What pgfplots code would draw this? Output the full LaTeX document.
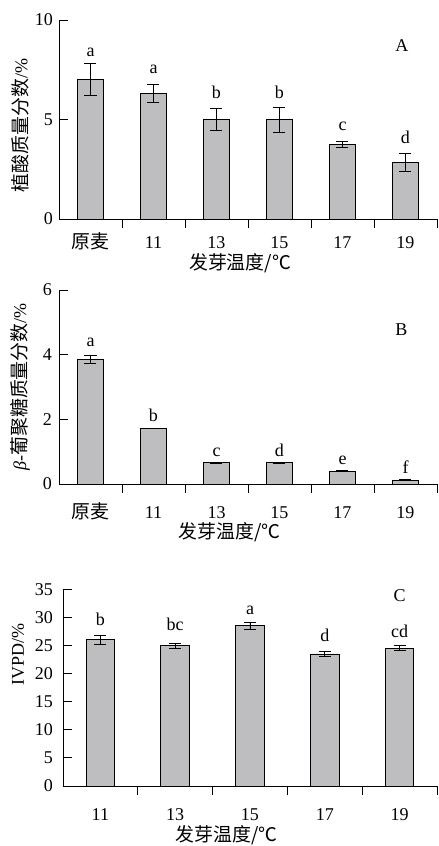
\documentclass[border=0pt]{standalone}
\usepackage{fontspec}
\setmainfont{Liberation Serif}
\newfontfamily\cjk[Scale=1.05]{Noto Sans CJK SC}
\usepackage{pgfplots}
\pgfplotsset{compat=1.18}
\definecolor{barfill}{RGB}{190,190,192}
\pgfplotsset{
  mybar/.style={
    scale only axis,
    axis x line*=bottom, axis y line*=left,
    axis line style={line width=0.9pt,-},
    ymin=0, enlargelimits=false, clip=false,
    tick align=inside,
    tick style={black, line width=0.9pt},
    major tick length=9pt, minor tick length=9pt,
    major x tick style={draw=none},
    /pgf/number format/assume math mode=true,
    xticklabel style={anchor=base},
    ybar, bar width=26pt,
  },
  barplot/.style={fill=barfill, draw=black, line width=0.8pt,
    error bars/.cd, y dir=both, y explicit,
    error bar style={line width=0.8pt, black},
    error mark options={rotate=90, mark size=6pt, line width=0.8pt, black}},
}
\begin{document}
\fontsize{18}{21}\selectfont
\begin{tikzpicture}
\path[use as bounding box] (0pt,0pt) rectangle (439pt,846pt);

% ---------- Panel A ----------
\begin{axis}[mybar,
  at={(59pt,627pt)}, anchor=south west, width=378pt, height=199pt,
  xmin=-0.5, xmax=5.5, ymax=10, ytick={0,5,10},
  xtick={0,...,5}, xticklabels={{\cjk 原麦},11,13,15,17,19},
  minor xtick={0.5,1.5,2.5,3.5,4.5,5.5},
  xticklabel style={yshift=-21pt},
  xlabel={{\cjk 发芽温度/℃}},
  every axis x label/.style={at={(axis description cs:0.479,-0.222)}, anchor=center},
  ylabel={{\cjk 植酸质量分数}/\%},
  every axis y label/.style={at={(axis description cs:-0.103,0.47)}, anchor=center, rotate=90},
]
\addplot[barplot] table[x=x,y=y,y error=e] {
x y e
0 7.0 0.8
1 6.3 0.45
2 5.0 0.55
3 5.0 0.63
4 3.75 0.17
5 2.85 0.45
};
\node[anchor=base] at (axis cs:0,8.16) {a};
\node[anchor=base] at (axis cs:1,7.32) {a};
\node[anchor=base] at (axis cs:2,6.07) {b};
\node[anchor=base] at (axis cs:3,6.07) {b};
\node[anchor=base] at (axis cs:4,4.47) {c};
\node[anchor=base] at (axis cs:5,3.77) {d};
\node[anchor=base] at (rel axis cs:0.907,0.84) {A};
\end{axis}

% ---------- Panel B ----------
\begin{axis}[mybar,
  at={(59pt,362pt)}, anchor=south west, width=378pt, height=194pt,
  xmin=-0.5, xmax=5.5, ymax=6, ytick={0,2,4,6},
  xtick={0,...,5}, xticklabels={{\cjk 原麦},11,13,15,17,19},
  minor xtick={0.5,1.5,2.5,3.5,4.5,5.5},
  xticklabel style={yshift=-26pt},
  yticklabel style={xshift=-1pt},
  xlabel={{\cjk 发芽温度/℃}},
  every axis x label/.style={at={(axis description cs:0.452,-0.25)}, anchor=center},
  ylabel={\textit{β}-{\cjk 葡聚糖质量分数}/\%},
  every axis y label/.style={at={(axis description cs:-0.103,0.50)}, anchor=center, rotate=90},
]
\addplot[barplot] table[x=x,y=y,y error=e] {
x y e
0 3.85 0.12
1 1.72 0.01
2 0.66 0.01
3 0.66 0.01
4 0.40 0.01
5 0.12 0.01
};
\node[anchor=base] at (axis cs:0,4.24) {a};
\node[anchor=base] at (axis cs:1,1.92) {b};
\node[anchor=base] at (axis cs:2,0.84) {c};
\node[anchor=base] at (axis cs:3,0.84) {d};
\node[anchor=base] at (axis cs:4,0.59) {e};
\node[anchor=base] at (axis cs:5,0.33) {f};
\node[anchor=base] at (rel axis cs:0.906,0.768) {B};
\end{axis}

% ---------- Panel C ----------
\begin{axis}[mybar,
  at={(63pt,60pt)}, anchor=south west, width=374pt, height=196.7pt,
  xmin=-0.5, xmax=4.5, ymax=35, ytick={0,5,...,35},
  bar width=28.6pt,
  xtick={0,...,4}, xticklabels={11,13,15,17,19},
  minor xtick={0.5,1.5,2.5,3.5,4.5},
  xticklabel style={yshift=-25.7pt},
  yticklabel style={xshift=-4pt},
  xlabel={{\cjk 发芽温度/℃}},
  every axis x label/.style={at={(axis description cs:0.438,-0.252)}, anchor=center},
  ylabel={IVPD/\%},
  every axis y label/.style={at={(axis description cs:-0.120,0.67)}, anchor=center, rotate=90},
]
\addplot[barplot] table[x=x,y=y,y error=e] {
x y e
0 26.0 0.8
1 25.0 0.45
2 28.5 0.65
3 23.5 0.4
4 24.5 0.45
};
\node[anchor=base] at (axis cs:0,28.5) {b};
\node[anchor=base] at (axis cs:1,27.6) {bc};
\node[anchor=base] at (axis cs:2,30.6) {a};
\node[anchor=base] at (axis cs:3,25.7) {d};
\node[anchor=base] at (axis cs:4,26.5) {cd};
\node[anchor=base] at (rel axis cs:0.90,0.937) {C};
\end{axis}
\end{tikzpicture}
\end{document}
